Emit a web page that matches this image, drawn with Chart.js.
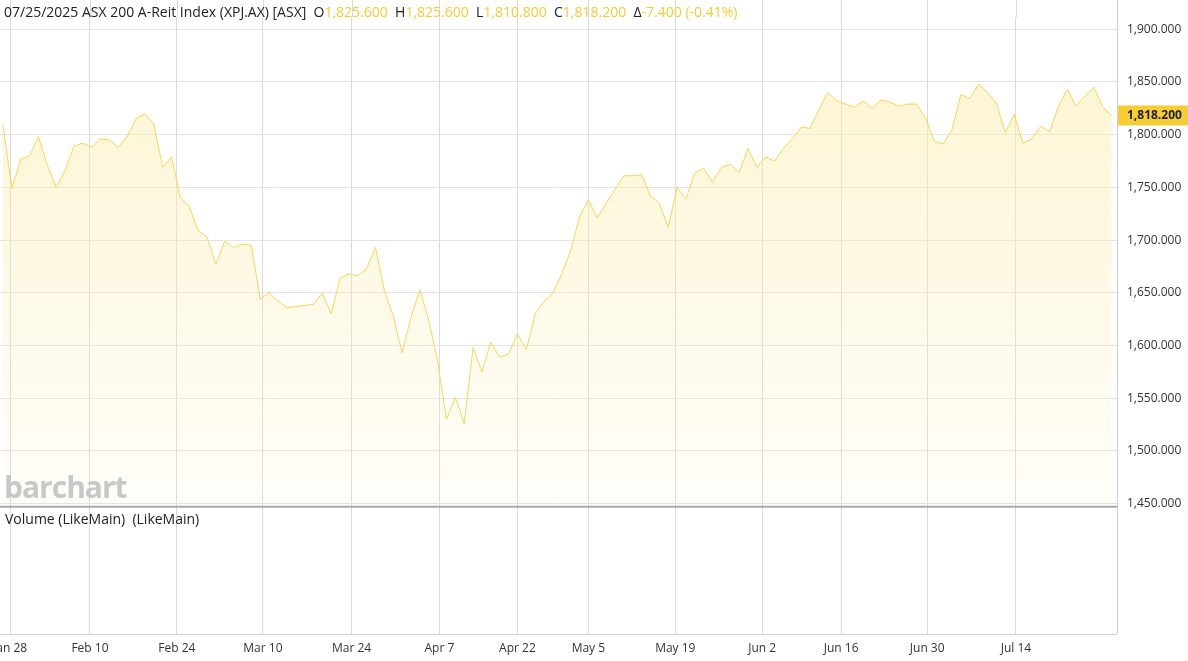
<!DOCTYPE html>
<html><head><meta charset="utf-8">
<script src="https://cdn.jsdelivr.net/npm/chart.js@4.4.1/dist/chart.umd.min.js"></script>
<style>
html,body{margin:0;padding:0;background:#fff;overflow:hidden}
#wrap{position:relative;width:1188px;height:661px;font-family:"Open Sans",sans-serif}
#hdr{position:absolute;left:4px;top:2px;font-size:14px;color:#222;white-space:nowrap}
#hdr .v{color:#f5cb3a}
#wm{position:absolute;left:4px;top:466px;font-size:30px;font-weight:bold;color:#c8c8c8;letter-spacing:-1px;font-family:"Open Sans",sans-serif}
#vol{position:absolute;left:5px;top:509px;font-size:14px;color:#222}
</style></head><body>
<div id="wrap">
<canvas id="c" width="1188" height="661"></canvas>
<div id="hdr">07/25/2025 ASX 200 A-Reit Index (XPJ.AX) [ASX] &nbsp;O<span class="v">1,825.600</span> &nbsp;H<span class="v">1,825.600</span> &nbsp;L<span class="v">1,810.800</span> &nbsp;C<span class="v">1,818.200</span> &nbsp;Δ<span class="v">-7.400 (-0.41%)</span></div>
<div id="wm">barchart</div>
<div id="vol">Volume (LikeMain) &nbsp;(LikeMain)</div>
</div>
<script>
const closes = [1809,1749,1777,1780,1798,1771,1750,1766,1789,1792,1788,1796,1795,1788,1798,1815,1820,1810,1769,1779,
1740,1732,1709,1703,1677,1699,1693,1696,1695,1644,1650,1642,1636,1637,1638,1639,1650,1630,1664,1668,
1666,1673,1693,1652,1628,1593,1627,1653,1624,1585,1530,1551,1526,1598,1575,1603,1589,1592,1611,1596,
1630,1642,1650,1668,1690,1722,1738,1721,1735,1748,1761,1761,1762,1742,1735,1712,1750,1739,1764,1768,
1755,1769,1772,1764,1787,1769,1779,1775,1787,1796,1807,1806,1824,1840,1832,1829,1826,1832,1825,1833,
1831,1827,1829,1829,1816,1794,1791,1805,1838,1834,1848,1840,1830,1802,1819,1792,1796,1808,1803,1827,
1843,1827,1837,1845,1826,1818.2];
const tickIdx = [0.8,9.8,19.6,29.3,39.3,49.2,58,66,75.8,85.6,94.5,104.2,114.2];
const tickLabels = ["Jan 28","Feb 10","Feb 24","Mar 10","Mar 24","Apr 7","Apr 22","May 5","May 19","Jun 2","Jun 16","Jun 30","Jul 14"];
const priceTicks = [1450,1500,1550,1600,1650,1700,1750,1800,1850,1900];
const lastPrice = 1818.2;

const pts = closes.map((v,i)=>({x:i,y:v}));
const fmt = v => v.toLocaleString('en-US',{minimumFractionDigits:3,maximumFractionDigits:3});

const panelPlugin = {
  id:'panel',
  afterDraw(ch){
    const {ctx,chartArea:a,scales:{x,y}} = ch;
    ctx.save();
    ctx.strokeStyle='#dadada'; ctx.lineWidth=1;
    tickIdx.forEach(t=>{const px=Math.round(x.getPixelForValue(t))+0.5;
      ctx.beginPath(); ctx.moveTo(px,0); ctx.lineTo(px,a.top); ctx.stroke();});
    const ys = y.getPixelForValue(1447);
    ctx.strokeStyle='#a8a8a8'; ctx.lineWidth=2;
    ctx.beginPath(); ctx.moveTo(0,ys); ctx.lineTo(a.right,ys); ctx.stroke();
    ctx.strokeStyle='#cfcfcf'; ctx.lineWidth=1;
    ctx.beginPath(); ctx.moveTo(a.right+0.5,0); ctx.lineTo(a.right+0.5,a.bottom); ctx.stroke();
    ctx.beginPath(); ctx.moveTo(0,a.bottom+0.5); ctx.lineTo(a.right,a.bottom+0.5); ctx.stroke();
    ctx.fillStyle='#333'; ctx.font='12px "Open Sans"'; ctx.textAlign='center'; ctx.textBaseline='middle';
    tickIdx.forEach((t,i)=>ctx.fillText(tickLabels[i],x.getPixelForValue(t),a.bottom+15));
    ctx.textAlign='left';
    const yp = y.getPixelForValue(lastPrice);
    ctx.fillStyle='#f7cd36';
    ctx.fillRect(a.right+1,yp-10,70,20);
    ctx.fillStyle='#222'; ctx.font='bold 12px "Open Sans"';
    ctx.fillText(fmt(lastPrice),a.right+10,yp);
    ctx.restore();
  }
};

const ctx = document.getElementById('c').getContext('2d');
const grad = ctx.createLinearGradient(0,100,0,505);
grad.addColorStop(0,'rgba(252,238,180,0.55)');
grad.addColorStop(1,'rgba(252,238,180,0.08)');

new Chart(ctx,{
  type:'line',
  data:{datasets:[{data:pts,borderColor:'#f7d657',borderWidth:1,pointRadius:0,tension:0,
    fill:{value:1447},backgroundColor:grad}]},
  options:{
    responsive:false,animation:false,
    layout:{padding:0,autoPadding:false},
    plugins:{legend:{display:false},tooltip:{enabled:false}},
    scales:{
      x:{type:'linear',min:-0.34,max:125.6,
        afterBuildTicks(ax){ax.ticks=tickIdx.map(v=>({value:v}));},
        afterFit(ax){ax.height=27;},
        ticks:{display:false},
        grid:{color:'#dadada',drawTicks:false},border:{display:false}},
      y:{position:'right',min:1326.4,max:1911.4,
        afterBuildTicks(ax){ax.ticks=priceTicks.map(v=>({value:v}));},
        afterFit(ax){ax.width=71;},
        ticks:{font:{size:12,family:'"Open Sans"'},color:'#333',padding:10,callback:v=>fmt(v)},
        grid:{color:'#e3e3e3',drawTicks:false},border:{display:false}}
    }
  },
  plugins:[panelPlugin]
});
</script>
</body></html>
